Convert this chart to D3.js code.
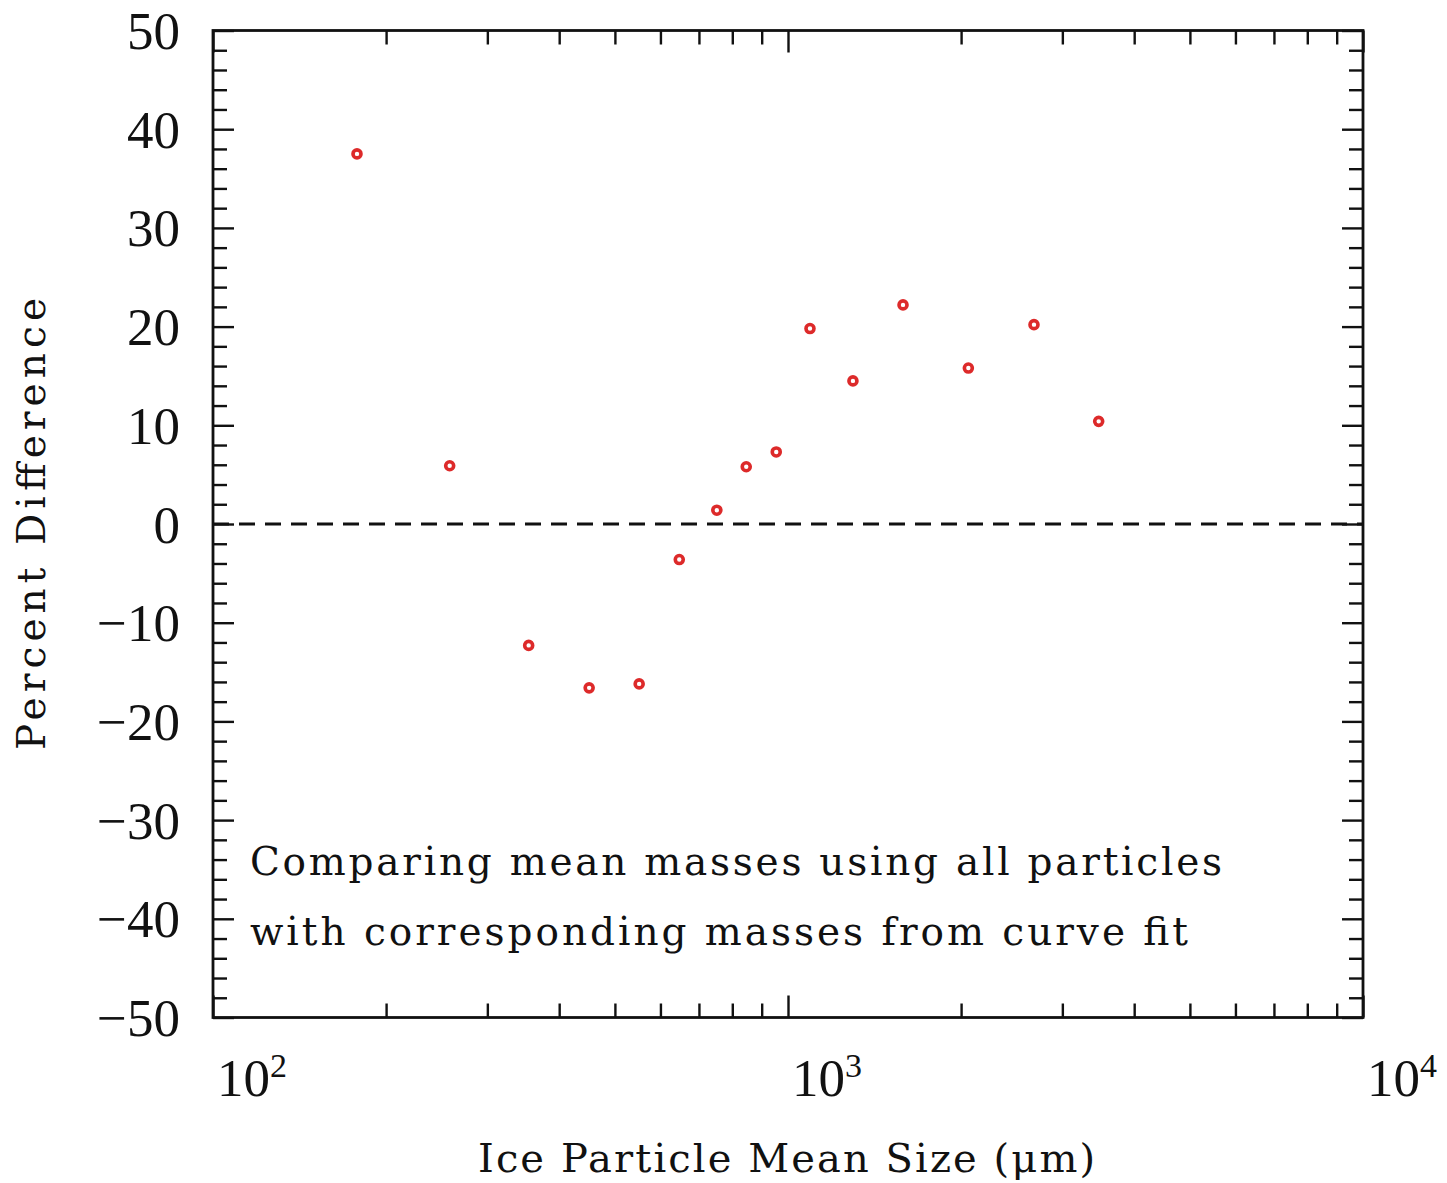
<!DOCTYPE html>
<html>
<head>
<meta charset="utf-8">
<script src="https://cdn.jsdelivr.net/npm/d3@7"></script>
<style>
  html, body { margin: 0; padding: 0; background: #fff; }
  svg text { font-family: "Liberation Serif", "DejaVu Serif", serif; fill: #111; }
  svg text.wide { font-family: "DejaVu Serif", serif; }
</style>
</head>
<body>
<div id="chart"></div>
<script>
// particle mean size (um) and percent difference
const sizes = [178, 258, 354, 451, 551, 647, 752, 846, 954, 1092, 1297, 1585, 2059, 2678, 3470];
const pctDiff = [37.5, 5.9, -12.3, -16.6, -16.2, -3.6, 1.4, 5.8, 7.3, 19.8, 14.5, 22.2, 15.8, 20.2, 10.4];

const xDecades = [100, 1000, 10000];
const xExponents = ["2", "3", "4"];
const yMajor = [-50, -40, -30, -20, -10, 0, 10, 20, 30, 40, 50];
const noteLines = [
  "Comparing mean masses using all particles",
  "with corresponding masses from curve fit"
];

const W = 1447, H = 1183;
const margin = {left: 213, top: 30.5, right: 84, bottom: 165.5};
const iw = W - margin.left - margin.right;
const ih = H - margin.top - margin.bottom;

const svg = d3.select("#chart").append("svg")
  .attr("width", W)
  .attr("height", H);

const g = svg.append("g").attr("transform", `translate(${margin.left},${margin.top})`);

const x = d3.scaleLog().domain([100, 10000]).range([0, iw]);
const y = d3.scaleLinear().domain([-50, 50]).range([ih, 0]);

// minor tick positions
const xMinor = [];
[100, 1000].forEach(d => { for (let k = 2; k <= 9; k++) xMinor.push(d * k); });
const yMinor = d3.range(-48, 50, 2).filter(v => v % 10 !== 0);

const tickStyle = sel => {
  sel.select(".domain").remove();
  sel.selectAll("line").attr("stroke", "#111").attr("stroke-width", 2.4);
  sel.selectAll("text").remove();
};

// bottom / top
g.append("g").attr("transform", `translate(0,${ih})`)
  .call(d3.axisBottom(x).tickValues(xMinor).tickSize(-14).tickFormat("")).call(tickStyle);
g.append("g").attr("transform", `translate(0,${ih})`)
  .call(d3.axisBottom(x).tickValues(xDecades).tickSize(-22).tickFormat("")).call(tickStyle);
g.append("g")
  .call(d3.axisTop(x).tickValues(xMinor).tickSize(-14).tickFormat("")).call(tickStyle);
g.append("g")
  .call(d3.axisTop(x).tickValues(xDecades).tickSize(-22).tickFormat("")).call(tickStyle);

// left / right
g.append("g")
  .call(d3.axisLeft(y).tickValues(yMinor).tickSize(-14).tickFormat("")).call(tickStyle);
g.append("g")
  .call(d3.axisLeft(y).tickValues(yMajor).tickSize(-21).tickFormat("")).call(tickStyle);
g.append("g").attr("transform", `translate(${iw},0)`)
  .call(d3.axisRight(y).tickValues(yMinor).tickSize(-14).tickFormat("")).call(tickStyle);
g.append("g").attr("transform", `translate(${iw},0)`)
  .call(d3.axisRight(y).tickValues(yMajor).tickSize(-21).tickFormat("")).call(tickStyle);

// frame
g.append("rect")
  .attr("x", 0).attr("y", 0).attr("width", iw).attr("height", ih)
  .attr("fill", "none").attr("stroke", "#111").attr("stroke-width", 2.8);

// zero line
g.append("line")
  .attr("x1", 0).attr("x2", iw)
  .attr("y1", y(0)).attr("y2", y(0))
  .attr("stroke", "#111").attr("stroke-width", 3)
  .attr("stroke-dasharray", "16,10");

// y tick labels
g.selectAll(".ylab").data(yMajor).join("text")
  .attr("class", "ylab")
  .attr("x", -33)
  .attr("y", d => y(d))
  .attr("dy", "0.35em")
  .attr("text-anchor", "end")
  .style("font-size", "53px")
  .text(d => d < 0 ? "\u2212" + Math.abs(d) : d);

// x tick labels 10^n
const xl = g.selectAll(".xlab").data(xDecades).join("text")
  .attr("class", "xlab")
  .attr("x", d => x(d) + 4)
  .attr("y", ih + 78)
  .style("font-size", "53px");
xl.append("tspan").text("10");
xl.append("tspan")
  .attr("dy", -19)
  .style("font-size", "34px")
  .text((d, i) => xExponents[i]);

// points
g.selectAll(".pt").data(sizes).join("circle")
  .attr("class", "pt")
  .attr("cx", d => x(d))
  .attr("cy", (d, i) => y(pctDiff[i]))
  .attr("r", 4)
  .attr("fill", "#fff")
  .attr("stroke", "#dd2a2a")
  .attr("stroke-width", 3.6);

// annotation
g.selectAll(".note").data(noteLines).join("text")
  .attr("class", "note wide")
  .attr("x", 250 - margin.left)
  .attr("y", (d, i) => 875 - margin.top + i * 70)
  .attr("textLength", (d, i) => i === 0 ? 972 : 938)
  .attr("lengthAdjust", "spacing")
  .style("font-size", "39px")
  .text(d => d);

// axis titles
svg.append("text")
  .attr("class", "wide")
  .attr("x", 478).attr("y", 1172)
  .attr("textLength", 617)
  .attr("lengthAdjust", "spacing")
  .style("font-size", "40px")
  .text("Ice Particle Mean Size (\u03BCm)");

svg.append("text")
  .attr("class", "wide")
  .attr("transform", "translate(45,750) rotate(-90)")
  .attr("x", 0).attr("y", 0)
  .attr("textLength", 452)
  .attr("lengthAdjust", "spacing")
  .style("font-size", "39px")
  .text("Percent Difference");
</script>
</body>
</html>
